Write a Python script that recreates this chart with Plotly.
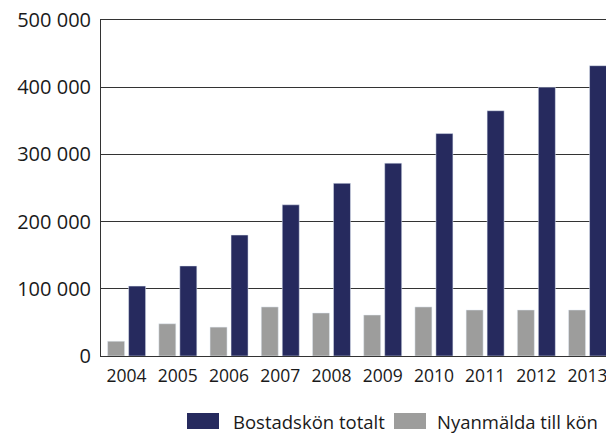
import plotly.graph_objects as go

years = ["2004", "2005", "2006", "2007", "2008", "2009", "2010", "2011", "2012", "2013"]
bostadsko_totalt = [104000, 134000, 180000, 225000, 257000, 287000, 331000, 365000, 400000, 432000]
nyanmalda = [22000, 48000, 43000, 73000, 64000, 61000, 73000, 68500, 68500, 68500]
legend_names = ["Bostadskön totalt", "Nyanmälda till kön"]

navy = "#262a5e"
grey = "#9d9d9c"

W, H = 606, 435
ML, MR, MT, MB = 101, 0, 20, 79
PW, PH = W - ML - MR, H - MT - MB


def px_x(x):
    return (x - ML) / PW


def px_y(y):
    return (H - MB - y) / PH


fig = go.Figure()
fig.add_trace(go.Bar(x=years, y=nyanmalda, name=legend_names[1], marker_color=grey))
fig.add_trace(go.Bar(x=years, y=bostadsko_totalt, name=legend_names[0], marker_color=navy))

# legend drawn as swatches + labels (larger swatches as in the original)
legend_items = [(legend_names[0], navy, 187, 231), (legend_names[1], grey, 394, 435)]
for name, col, sx, tx in legend_items:
    fig.add_shape(type="rect", xref="paper", yref="paper",
                  x0=px_x(sx), x1=px_x(sx + 32), y0=px_y(429), y1=px_y(413),
                  fillcolor=col, line=dict(width=0))
    fig.add_annotation(text=name, xref="paper", yref="paper", x=px_x(tx), y=px_y(421),
                       xanchor="left", yanchor="middle", showarrow=False,
                       font=dict(size=18.5, color="#1a1a1a"))

fig.update_layout(
    width=W, height=H,
    margin=dict(l=ML, r=MR, t=MT, b=MB, autoexpand=False),
    paper_bgcolor="white", plot_bgcolor="white",
    barmode="group", bargap=0.18, bargroupgap=0.19,
    separators=", ",
    font=dict(family="Open Sans", color="#1a1a1a"),
    showlegend=False,
)
fig.update_xaxes(type="category", range=[-0.5, 9.36], showline=True, mirror=True,
                 linecolor="#333333", linewidth=1, ticks="",
                 tickfont=dict(size=17.5), ticklabelstandoff=4, showgrid=False,
                 automargin=False, ticklabeloverflow="allow")
fig.update_yaxes(range=[0, 500000], dtick=100000, tickformat=",d", showgrid=True,
                 gridcolor="#333333", gridwidth=1, showline=True, linecolor="#333333",
                 linewidth=1, zeroline=True, zerolinecolor="#333333", zerolinewidth=1,
                 ticks="", tickfont=dict(size=20), ticklabelstandoff=5, automargin=False,
                 ticklabeloverflow="allow")

fig.write_html(
    "out.html",
    config={"displayModeBar": False},
    post_script="document.body.style.margin='0';document.documentElement.style.overflow='hidden';",
)
